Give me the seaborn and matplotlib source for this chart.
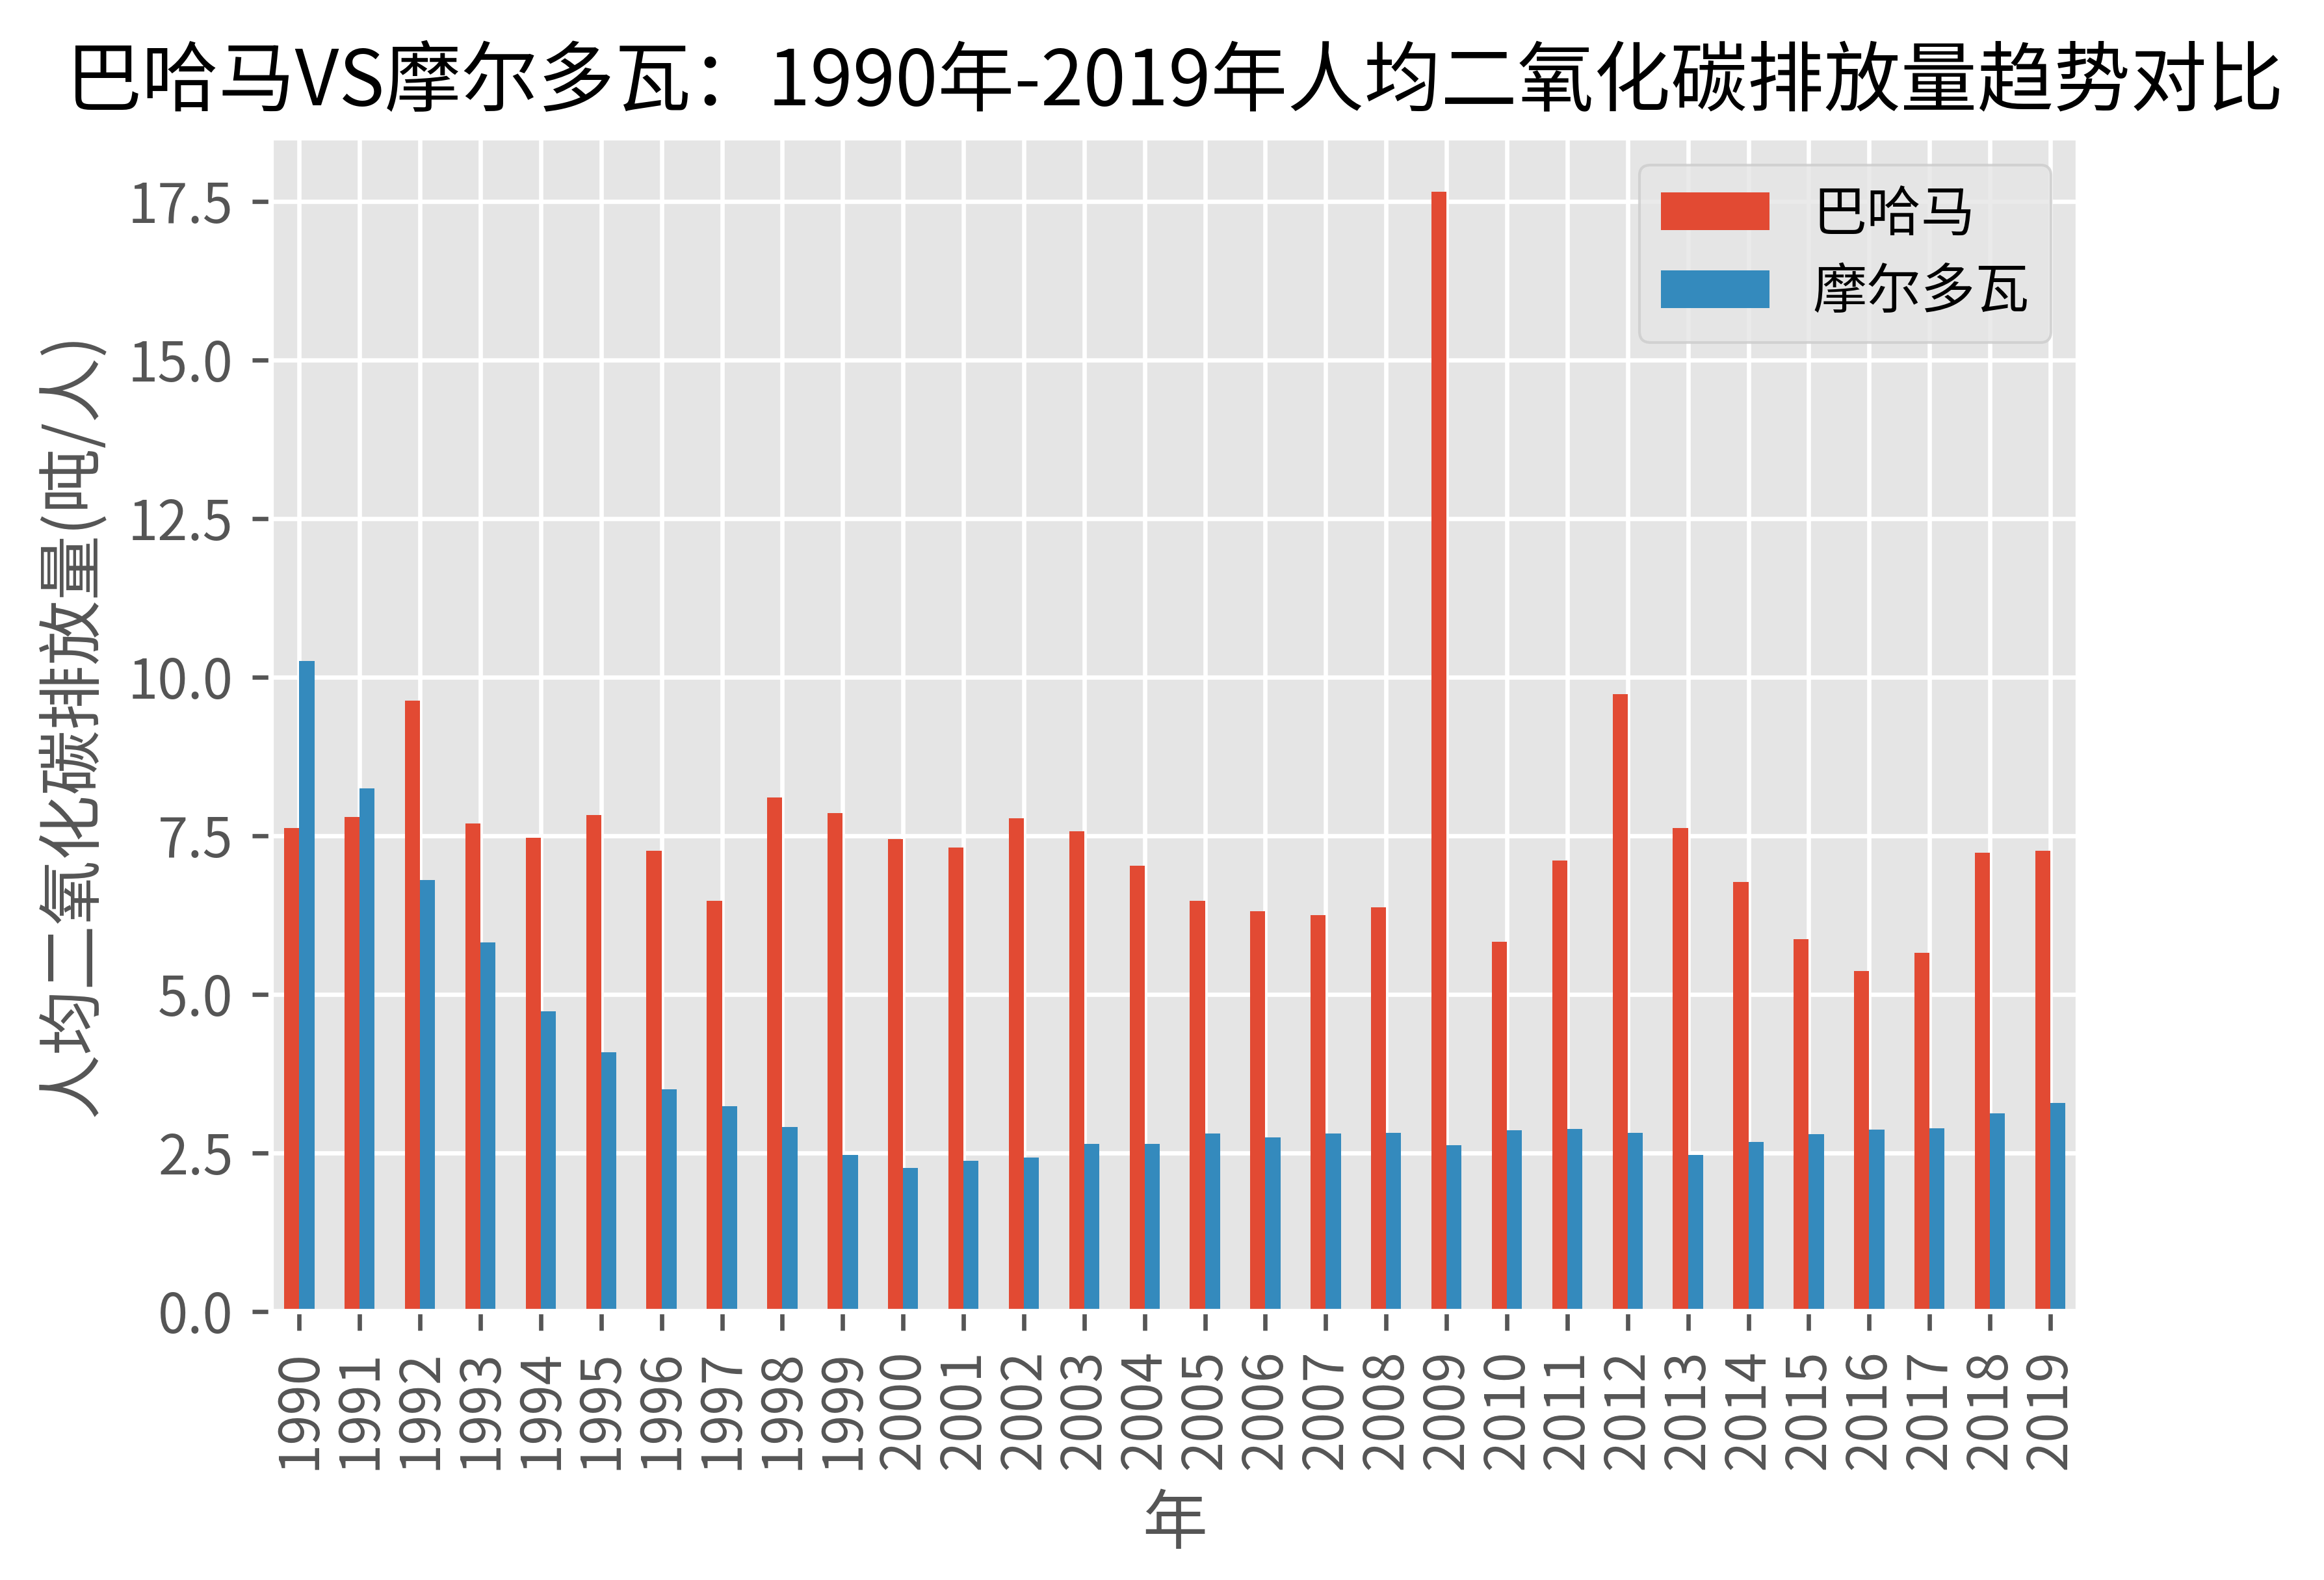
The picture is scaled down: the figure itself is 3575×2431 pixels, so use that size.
import numpy as np
import pandas as pd
import matplotlib
matplotlib.use("Agg")
import matplotlib.pyplot as plt
import seaborn as sns

years = [str(y) for y in range(1990, 2020)]
bahamas = [7.62, 7.79, 9.63, 7.69, 7.47, 7.82, 7.26, 6.47, 8.10, 7.86,
           7.45, 7.31, 7.77, 7.57, 7.03, 6.47, 6.31, 6.25, 6.37, 17.65,
           5.83, 7.11, 9.73, 7.62, 6.77, 5.87, 5.37, 5.65, 7.23, 7.26]
moldova = [10.25, 8.24, 6.80, 5.82, 4.73, 4.08, 3.50, 3.23, 2.91, 2.47,
           2.26, 2.37, 2.43, 2.64, 2.64, 2.80, 2.74, 2.80, 2.81, 2.62,
           2.86, 2.88, 2.81, 2.47, 2.67, 2.79, 2.87, 2.89, 3.12, 3.29]
series_names = ["巴哈马", "摩尔多瓦"]
colors = ["#E24A33", "#348ABD"]
title = "巴哈马VS摩尔多瓦：1990年-2019年人均二氧化碳排放量趋势对比"
xlabel = "年"
ylabel = "人均二氧化碳排放量(吨/人)"

df = pd.DataFrame({
    "年": years * 2,
    "值": bahamas + moldova,
    "国家": [series_names[0]] * len(years) + [series_names[1]] * len(years),
})

plt.style.use("ggplot")
plt.rcParams["font.family"] = ["Noto Sans CJK SC", "DejaVu Sans"]
plt.rcParams["axes.unicode_minus"] = False

fig = plt.figure(figsize=(3575 / 600, 2431 / 600), dpi=600)
ax = fig.add_axes([0.1167, 0.170, 0.8943 - 0.1167, 0.9128 - 0.170])

sns.barplot(data=df, x="年", y="值", hue="国家", palette=colors,
            saturation=1, width=0.5, linewidth=0, ax=ax, errorbar=None)

ax.grid(True, axis="both", color="white")
ax.set_axisbelow(True)
ax.set_xlim(-0.465, len(years) - 1 + 0.465)
ax.set_ylim(0, 18.5)
ax.set_yticks([0, 2.5, 5, 7.5, 10, 12.5, 15, 17.5])
ax.set_yticklabels(["0.0", "2.5", "5.0", "7.5", "10.0", "12.5", "15.0", "17.5"])
plt.setp(ax.get_xticklabels(), rotation=90)
ax.set_xlabel(xlabel, fontsize=12, color="#555555")
ax.set_ylabel(ylabel, fontsize=12, color="#555555")
ax.set_title(title, fontsize=14.15, color="black")

handles, labels = ax.get_legend_handles_labels()
ax.legend(handles, labels, loc="upper right", title=None, fontsize=10,
          labelspacing=0.4)

fig.savefig("out.png", dpi=600)
